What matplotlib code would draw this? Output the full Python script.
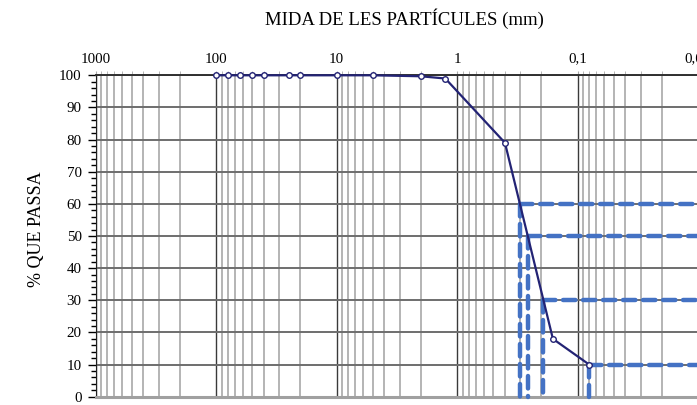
import numpy as np
import matplotlib
matplotlib.use("Agg")
import matplotlib.pyplot as plt
from matplotlib.ticker import LogLocator, FuncFormatter, MultipleLocator

plt.rcParams['font.family'] = ['Liberation Serif', 'DejaVu Serif']

# sieve sizes (mm) and % passing
sizes = [100, 80, 63, 50, 40, 25, 20, 10, 5, 2, 1.25, 0.4, 0.16, 0.08]
passing = [100, 100, 100, 100, 100, 100, 100, 100, 100, 99.7, 99.0, 79, 18, 10]
d_levels = [60, 50, 30, 10]

curve_col = '#232374'
dash_col = '#4472c4'

fig = plt.figure(figsize=(6.97, 4.05), dpi=100)
W, H = 697.0, 405.0
x0, x1 = 95.5, 698.0
y0, y1 = 396.7, 75.3
ax = fig.add_axes([x0 / W, 1 - y0 / H, (x1 - x0) / W, (y0 - y1) / H])

ax.set_xscale('log')
ax.set_xlim(1000, 0.01)
ax.set_ylim(0, 100)

# grid
ax.xaxis.set_major_locator(LogLocator(base=10, numticks=10))
ax.xaxis.set_minor_locator(LogLocator(base=10, subs=np.arange(2, 10), numticks=10))
ax.yaxis.set_major_locator(MultipleLocator(10))
ax.yaxis.set_minor_locator(MultipleLocator(2))
ax.grid(True, which='major', axis='x', color='#3a3a3a', lw=1.0)
ax.grid(True, which='minor', axis='x', color='#a8a8a8', lw=1.2)
ax.grid(True, which='major', axis='y', color='#6e6e6e', lw=1.4)
ax.set_axisbelow(True)

ax.xaxis.tick_top()
ax.xaxis.set_major_formatter(FuncFormatter(lambda v, p: ('%g' % v).replace('.', ',')))
ax.tick_params(axis='x', which='both', direction='out', length=3, color='#a8a8a8',
               labelsize=10.8, pad=4)
ax.tick_params(axis='y', which='major', direction='out', length=6, width=1,
               labelsize=10.8, pad=4)
ax.tick_params(axis='y', which='minor', direction='out', length=3.5, width=1)

ax.spines['right'].set_visible(False)
ax.spines['top'].set_color('#303030')
ax.spines['top'].set_linewidth(1.4)
ax.spines['left'].set_color('#202020')
ax.spines['bottom'].set_color('#a0a0a0')
ax.spines['bottom'].set_linewidth(2.2)

# D60, D50, D30, D10 from the curve (log interpolation)
logd = np.log10(sizes)
for lvl in d_levels:
    d = 10 ** np.interp(lvl, passing[::-1], logd[::-1])
    kw = dict(color=dash_col, lw=3.2, dash_capstyle='round', zorder=3, clip_on=False)
    ax.plot([d, 0.0099], [lvl, lvl], dashes=(2.8, 1.7), **kw)
    ax.plot([d, d], [lvl, 0], dashes=(2.8, 1.7), **kw)

ax.plot(sizes, passing, color=curve_col, lw=1.6, marker='o', ms=4,
        mfc='white', mec=curve_col, mew=1.0, zorder=4, clip_on=False)

fig.text(404 / W, 1 - 19 / H, 'MIDA DE LES PARTÍCULES (mm)', ha='center', va='center',
         fontsize=13.5)
fig.text(37 / W, 1 - 229 / H, '% QUE PASSA', ha='center', va='center',
         rotation=90, fontsize=13)

fig.savefig('out.png', dpi=100)
